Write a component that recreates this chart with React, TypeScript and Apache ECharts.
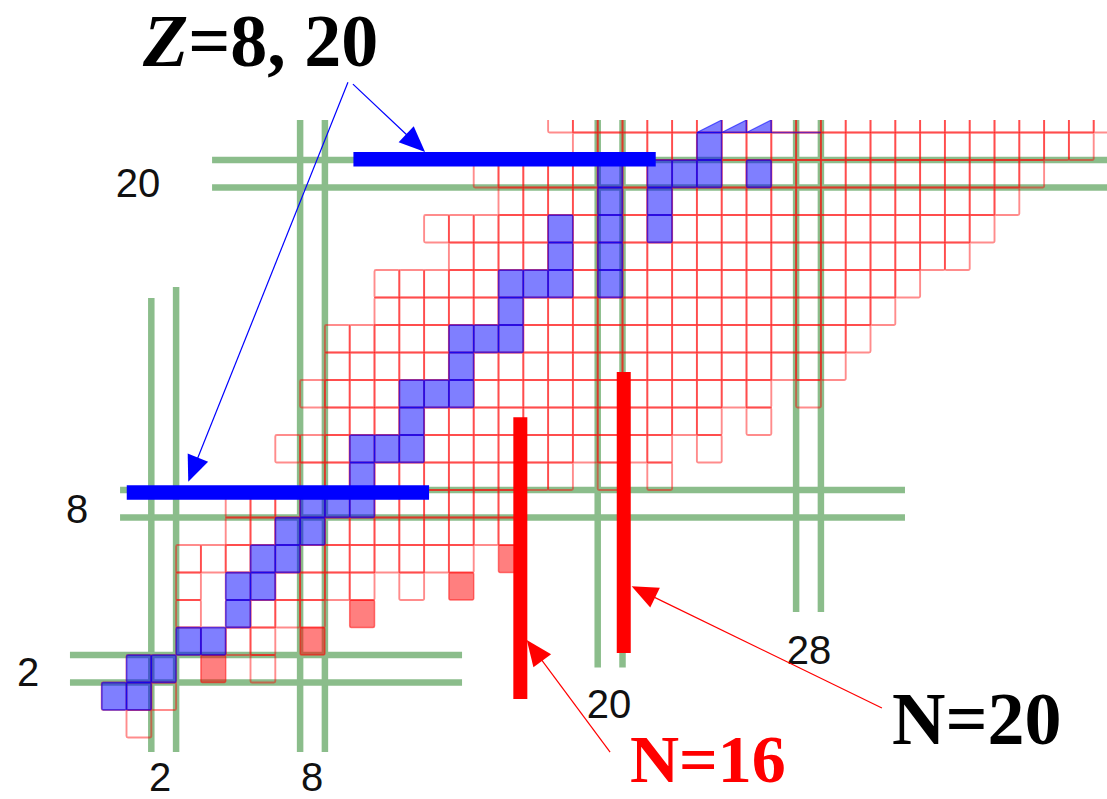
import React, { useEffect, useRef } from "react";
import * as echarts from "echarts";

// ---------------- data ----------------
// Known (bound) nuclides, as runs along each proton row: [Z, first N, last N]
const knownRuns: [number, number, number][] = [
  [0, 1, 1],
  [1, 0, 2],
  [2, 1, 2], [2, 6, 6],
  [3, 3, 6],
  [4, 3, 3], [4, 5, 8],
  [5, 3, 3], [5, 5, 10], [5, 12, 12],
  [6, 3, 14],
  [7, 5, 16],
  [8, 5, 16],
  [9, 8, 18], [9, 20, 20], [9, 22, 22],
  [10, 7, 22], [10, 24, 24],
  [11, 9, 24], [11, 26, 26],
  [12, 8, 26], [12, 28, 28],
  [13, 9, 29],
  [14, 9, 30],
  [15, 11, 31],
  [16, 11, 32],
  [17, 14, 34],
  [18, 13, 35],
  [19, 16, 36],
  [20, 15, 37],
  [21, 19, 39],
  [22, 18, 41],
];

// Stable nuclides [N, Z]
const stableNuclides: [number, number][] = [
  [0, 1], [1, 1],
  [1, 2], [2, 2],
  [3, 3], [4, 3],
  [5, 4],
  [5, 5], [6, 5],
  [6, 6], [7, 6],
  [7, 7], [8, 7],
  [8, 8], [9, 8], [10, 8],
  [10, 9],
  [10, 10], [11, 10], [12, 10],
  [12, 11],
  [12, 12], [13, 12], [14, 12],
  [14, 13],
  [14, 14], [15, 14], [16, 14],
  [16, 15],
  [16, 16], [17, 16], [18, 16], [20, 16],
  [18, 17], [20, 17],
  [18, 18], [20, 18], [22, 18],
  [20, 19], [22, 19],
  [20, 20], [22, 20], [23, 20], [24, 20], [26, 20],
  [24, 21],
];

// Drip-line nuclides shown as solid red cells [N, Z]
const haloNuclides: [number, number][] = [
  [4, 2], [8, 3], [10, 4], [14, 5], [16, 6],
];

// Stable Ti (Z = 22) cells cut by the top edge of the figure
const topRowZ = 22;
const stableTopSliverN = [24, 25, 26];
const stableTopEdgeN = [27, 28];

// Magic numbers and tick labels
const magicN = [2, 8, 20, 28];
const magicZ = [2, 8, 20];
const nTickLabels = ["2", "8", "20", "28"];
const zTickLabels = ["2", "8", "20"];

// Reach of the green magic lines (chart units): N: [bottom, top-left line, top-right line]; Z: [left, right]
const magicNReach: [number, number, number][] = [
  [-1.03, 15.48, 15.88],
  [-1.03, 23, 23],
  [2.05, 23, 23],
  [4.06, 23, 23],
];
const magicZReach: [number, number][] = [
  [-1.78, 14.03],
  [0.24, 31.89],
  [3.95, 42],
];

// Highlight bars: Z shells (horizontal, blue) and N shells (vertical, red)
const zShellBars: { y: number; from: number; to: number }[] = [
  { y: 8.41, from: 0.51, to: 12.7 },
  { y: 20.53, from: 9.65, to: 21.84 },
];
const nShellBars: { x: number; from: number; to: number }[] = [
  { x: 16.38, from: 0.9, to: 11.15 },
  { x: 20.55, from: 2.57, to: 12.79 },
];

// Annotation arrows: [fromN, fromZ, toN, toZ]
const arrowPaths: [number, number, number, number][] = [
  [9.63, 23.26, 12.54, 20.79],
  [9.43, 23.33, 2.99, 8.8],
  [20.0, -1.03, 16.64, 3.05],
  [30.96, 0.57, 20.87, 5.0],
];
const arrowColors = ["#0000ff", "#0000ff", "#ff0000", "#ff0000"];

// ---------------- styles ----------------
const GREEN = "#8bbd8b";
const OUTLINE = "rgba(255,0,0,0.45)";

export default function App() {
  const ref = useRef<HTMLDivElement>(null);

  useEffect(() => {
    document.body.style.margin = "0";
    if (!ref.current) return;
    const chart = echarts.init(ref.current, undefined, { renderer: "svg" });

    const knownCells: [number, number][] = [];
    knownRuns.forEach(([z, a, b]) => {
      for (let n = a; n <= b; n++) knownCells.push([n, z]);
    });

    const greenLines: [number, number, number, number][] = [];
    magicN.forEach((n, i) => {
      const [lo, hiL, hiR] = magicNReach[i];
      greenLines.push([n - 0.5, lo, n - 0.5, hiL]);
      greenLines.push([n + 0.5, lo, n + 0.5, hiR]);
    });
    magicZ.forEach((z, i) => {
      const [l, r] = magicZReach[i];
      greenLines.push([l, z - 0.5, r, z - 0.5]);
      greenLines.push([l, z + 0.5, r, z + 0.5]);
    });

    const cellRender = (fill: string, stroke: string, lw: number) =>
      (params: any, api: any) => {
        const n = api.value(0);
        const z = api.value(1);
        const p0 = api.coord([n - 0.5, z + 0.5]);
        const p1 = api.coord([n + 0.5, z - 0.5]);
        return {
          type: "rect",
          shape: { x: p0[0], y: p0[1], width: p1[0] - p0[0], height: p1[1] - p0[1], r: 1.5 },
          style: { fill, stroke, lineWidth: lw },
        };
      };

    const segRender = (color: string, lw: number) => (params: any, api: any) => {
      const a = api.coord([api.value(0), api.value(1)]);
      const b = api.coord([api.value(2), api.value(3)]);
      return {
        type: "line",
        shape: { x1: a[0], y1: a[1], x2: b[0], y2: b[1] },
        style: { stroke: color, lineWidth: lw, lineCap: "butt" },
      };
    };

    const numFont = { fontFamily: "Liberation Sans", fontSize: 40, fill: "#111" };
    const numText = (text: string, x: number, y: number) => ({
      type: "text",
      x,
      y,
      style: { text, ...numFont, textAlign: "center", textVerticalAlign: "middle" },
    });

    const nLabelPos = [[160, 777], [312, 777], [609, 704], [809, 650]];
    const zLabelPos = [[28, 672], [77, 509], [138, 183]];

    const option: any = {
      animation: false,
      backgroundColor: "#ffffff",
      grid: { left: 0, right: 0, top: 120, bottom: 0 },
      xAxis: { type: "value", min: -4.601, max: 40.036, show: false },
      yAxis: { type: "value", min: -2.736, max: 21.955, show: false },
      series: [
        {
          type: "custom",
          name: "magic",
          clip: true,
          silent: true,
          data: greenLines,
          renderItem: segRender(GREEN, 6.5),
          z: 1,
        },
        {
          type: "custom",
          name: "known",
          clip: true,
          data: knownCells,
          renderItem: cellRender("none", OUTLINE, 1.9),
          z: 2,
        },
        {
          type: "custom",
          name: "halo",
          clip: true,
          data: haloNuclides,
          renderItem: cellRender("rgba(255,0,0,0.5)", "rgba(255,0,0,0.5)", 1.5),
          z: 3,
        },
        {
          type: "custom",
          name: "stable",
          clip: true,
          data: stableNuclides,
          renderItem: cellRender("rgba(0,0,255,0.5)", "rgba(0,0,255,0.55)", 1.3),
          z: 4,
        },
        {
          type: "custom",
          name: "stableTop",
          clip: true,
          data: stableTopSliverN.map((n) => [n, topRowZ]),
          renderItem: (params: any, api: any) => {
            const n = api.value(0);
            const z = api.value(1);
            const a = api.coord([n - 0.5, z - 0.5]);
            const b = api.coord([n + 0.5, z - 0.5]);
            const c = api.coord([n + 0.5, z + 0.5]);
            const top = Math.max(c[1], params.coordSys.y);
            return {
              type: "polygon",
              shape: { points: [a, b, [b[0], top]] },
              style: { fill: "rgba(0,0,255,0.5)", stroke: "rgba(0,0,255,0.6)", lineWidth: 1.2 },
            };
          },
          z: 4,
        },
        {
          type: "custom",
          name: "stableTopEdge",
          clip: true,
          data: stableTopEdgeN.map((n) => [n - 0.5, topRowZ - 0.5, n + 0.5, topRowZ - 0.5]),
          renderItem: segRender("rgba(0,0,255,0.55)", 1.5),
          z: 4,
        },
        {
          type: "custom",
          name: "zShell",
          clip: false,
          data: zShellBars.map((b) => [b.from, b.y, b.to, b.y]),
          renderItem: segRender("#0000ff", 14.5),
          z: 6,
        },
        {
          type: "custom",
          name: "nShell",
          clip: false,
          data: nShellBars.map((b) => [b.x, b.from, b.x, b.to]),
          renderItem: segRender("#ff0000", 14),
          z: 6,
        },
        {
          type: "custom",
          name: "arrows",
          clip: false,
          data: arrowPaths,
          renderItem: (params: any, api: any) => {
            const a = api.coord([api.value(0), api.value(1)]);
            const b = api.coord([api.value(2), api.value(3)]);
            const color = arrowColors[params.dataIndex];
            const dx = b[0] - a[0];
            const dy = b[1] - a[1];
            const len = Math.hypot(dx, dy);
            const ux = dx / len;
            const uy = dy / len;
            const L = 26;
            const W = 11;
            const bx = b[0] - ux * L;
            const by = b[1] - uy * L;
            return {
              type: "group",
              children: [
                {
                  type: "line",
                  shape: { x1: a[0], y1: a[1], x2: bx + ux * 4, y2: by + uy * 4 },
                  style: { stroke: color, lineWidth: 1.2 },
                },
                {
                  type: "polygon",
                  shape: {
                    points: [
                      [b[0], b[1]],
                      [bx - uy * W, by + ux * W],
                      [bx + uy * W, by - ux * W],
                    ],
                  },
                  style: { fill: color },
                },
              ],
            };
          },
          z: 7,
        },
      ],
      graphic: [
        ...nTickLabels.map((t, i) => numText(t, nLabelPos[i][0], nLabelPos[i][1])),
        ...zTickLabels.map((t, i) => numText(t, zLabelPos[i][0], zLabelPos[i][1])),
        {
          type: "text",
          x: 143,
          y: 41,
          style: {
            text: "{i|Z}{b|=8, 20}",
            textAlign: "left",
            textVerticalAlign: "middle",
            rich: {
              i: { fontFamily: "Liberation Serif", fontWeight: "bold", fontStyle: "italic", fontSize: 74, fill: "#000" },
              b: { fontFamily: "Liberation Serif", fontWeight: "bold", fontSize: 74, fill: "#000" },
            },
          },
        },
        {
          type: "text",
          x: 630,
          y: 759,
          style: {
            text: "N=16",
            fontFamily: "Liberation Serif",
            fontWeight: "bold",
            fontSize: 68,
            fill: "#ff0000",
            textAlign: "left",
            textVerticalAlign: "middle",
          },
        },
        {
          type: "text",
          x: 892,
          y: 719,
          style: {
            text: "N=20",
            fontFamily: "Liberation Serif",
            fontWeight: "bold",
            fontSize: 74,
            fill: "#000",
            textAlign: "left",
            textVerticalAlign: "middle",
          },
        },
      ],
    };

    chart.setOption(option);
    return () => chart.dispose();
  }, []);

  return <div ref={ref} style={{ width: 1107, height: 799 }} />;
}
